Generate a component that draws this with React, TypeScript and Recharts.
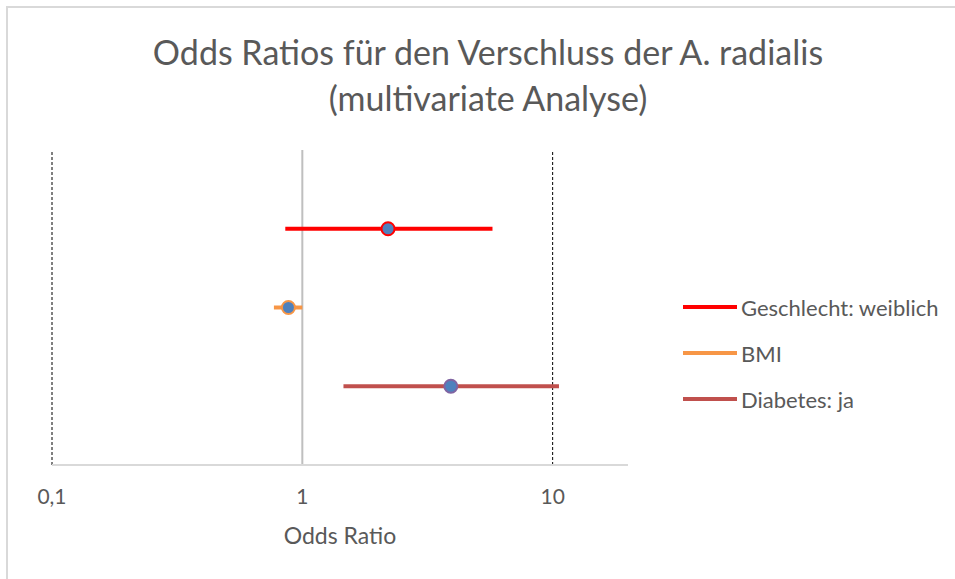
import React from "react";
import {
  ComposedChart,
  Scatter,
  XAxis,
  YAxis,
  ReferenceLine,
  Label,
} from "recharts";

const labels = ["Geschlecht: weiblich", "BMI", "Diabetes: ja"];
const oddsRatios = [2.2, 0.88, 3.92];
const lowerCI = [0.855, 0.77, 1.46];
const upperCI = [5.75, 1.0, 10.6];
const rowPositions = [3, 2, 1];
const xTicks = [0.1, 1, 10];

const lineColors = ["#ff0000", "#f79646", "#c0504d"];
const markerStrokes = ["#ff0000", "#f79646", "#8064a2"];
const markerFill = "#4f81bd";
const FONT = "Lato, 'Open Sans', sans-serif";
const TEXT = "#595959";

const ciSeries = labels.map((_, i) => [
  { x: lowerCI[i], y: rowPositions[i] },
  { x: upperCI[i], y: rowPositions[i] },
]);
const pointSeries = labels.map((_, i) => [
  { x: oddsRatios[i], y: rowPositions[i] },
]);

const Empty = () => <g />;

const makeMarker = (stroke: string) => (props: any) => (
  <circle cx={props.cx} cy={props.cy} r={6.5} fill={markerFill} stroke={stroke} strokeWidth={2} />
);

export default function App() {
  return (
    <div style={{ position: "absolute", left: 0, top: 0, width: 955, height: 579, background: "#fff", overflow: "hidden" }}>
      <div
        style={{
          position: "absolute",
          left: 6,
          top: 6,
          width: 960,
          height: 600,
          border: "2px solid #d9d9d9",
          boxSizing: "border-box",
        }}
      />
      <div
        style={{
          position: "absolute",
          left: 0,
          top: 29,
          width: 976,
          textAlign: "center",
          fontFamily: FONT,
          fontSize: 34,
          lineHeight: "46px",
          color: TEXT,
        }}
      >
        Odds Ratios für den Verschluss der A. radialis
        <br />
        (multivariate Analyse)
      </div>
      <div style={{ position: "absolute", left: 0, top: 0 }}>
        <ComposedChart
          width={955}
          height={579}
          margin={{ top: 150, right: 327, left: 52, bottom: 0 }}
        >
          <XAxis
            type="number"
            dataKey="x"
            scale="log"
            domain={[0.1, 20]}
            allowDataOverflow
            ticks={xTicks}
            tickFormatter={(v: number) => String(v).replace(".", ",")}
            tickLine={false}
            tickMargin={18}
            height={114}
            stroke="#d9d9d9"
            strokeWidth={2}
            tick={{ fill: TEXT, fontSize: 21, fontFamily: FONT }}
          >
            <Label
              value="Odds Ratio"
              position="insideBottom"
              offset={35}
              style={{ fill: TEXT, fontSize: 23, fontFamily: FONT }}
            />
          </XAxis>
          <YAxis type="number" dataKey="y" domain={[0, 4]} hide width={0} />
          <ReferenceLine x={1} stroke="#bfbfbf" strokeWidth={2} />
          <ReferenceLine x={0.1} stroke="#000" strokeWidth={1} strokeDasharray="3 2" />
          <ReferenceLine x={10} stroke="#000" strokeWidth={1} strokeDasharray="3 2" />
          {ciSeries.map((d, i) => (
            <Scatter
              key={"ci" + i}
              data={d}
              line={{ stroke: lineColors[i], strokeWidth: 4 }}
              shape={Empty}
              legendType="none"
              isAnimationActive={false}
            />
          ))}
          {pointSeries.map((d, i) => (
            <Scatter
              key={"pt" + i}
              data={d}
              shape={makeMarker(markerStrokes[i])}
              legendType="none"
              isAnimationActive={false}
            />
          ))}
        </ComposedChart>
      </div>
      <div style={{ position: "absolute", left: 683, top: 284, fontFamily: FONT, fontSize: 22, color: TEXT }}>
        {labels.map((l, i) => (
          <div key={l} style={{ display: "flex", alignItems: "center", height: 46 }}>
            <div style={{ width: 54, height: 4, background: lineColors[i], marginRight: 4 }} />
            <span>{l}</span>
          </div>
        ))}
      </div>
    </div>
  );
}
